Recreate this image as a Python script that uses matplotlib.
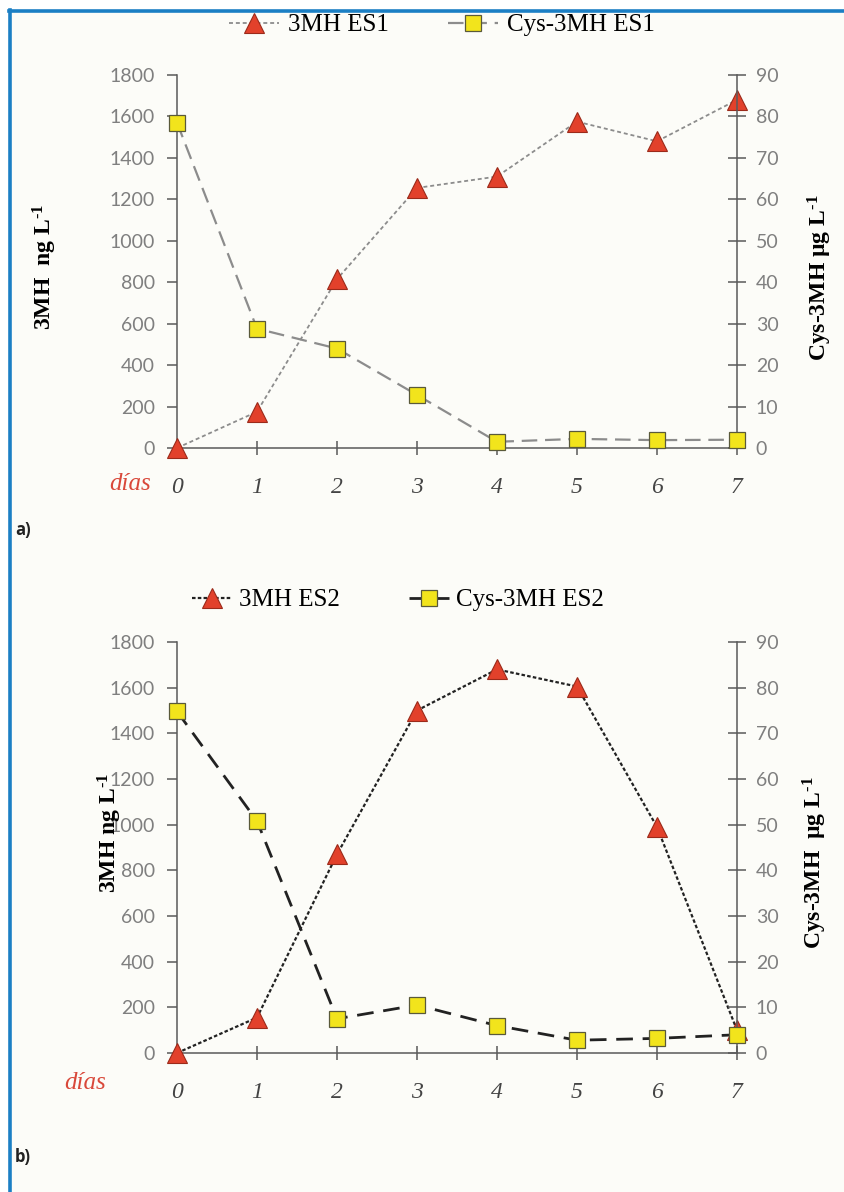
import matplotlib
matplotlib.use("Agg")
import matplotlib.pyplot as plt
from matplotlib.lines import Line2D
from matplotlib.patches import Rectangle

# ---------------- data ----------------
days = [0, 1, 2, 3, 4, 5, 6, 7]
day_labels = ["0", "1", "2", "3", "4", "5", "6", "7"]

mh_es1 = [0, 175, 815, 1255, 1310, 1575, 1480, 1680]          # ng/L (left)
cys_es1 = [78.5, 28.8, 24.0, 12.8, 1.5, 2.2, 1.9, 2.0]        # ug/L (right)

mh_es2 = [0, 155, 870, 1500, 1680, 1605, 990, 100]            # ng/L (left)
cys_es2 = [74.8, 50.8, 7.5, 10.5, 6.0, 2.8, 3.2, 4.0]         # ug/L (right)

left_ticks = [0, 200, 400, 600, 800, 1000, 1200, 1400, 1600, 1800]
right_ticks = [0, 10, 20, 30, 40, 50, 60, 70, 80, 90]

labels_a = ["3MH ES1", "Cys-3MH ES1"]
labels_b = ["3MH ES2", "Cys-3MH ES2"]

# ---------------- style ----------------
W, H = 845, 1192
DPI = 100
plt.rcParams["mathtext.fontset"] = "custom"
plt.rcParams["mathtext.rm"] = "Liberation Serif:bold"
plt.rcParams["mathtext.bf"] = "Liberation Serif:bold"
plt.rcParams["mathtext.it"] = "Liberation Serif:italic:bold"

TRI_FACE = "#e2412b"
TRI_EDGE = "#9b2a1a"
SQ_FACE = "#f2e41c"
SQ_EDGE = "#5a5a3a"
TICK_COL = "#7f7f7f"
SPINE_COL = "#5a5a5a"
BLUE = "#1b7fc4"

fig = plt.figure(figsize=(W / DPI, H / DPI), dpi=DPI, facecolor="white")

# background panel & blue frame
fig.add_artist(Rectangle((10 / W, 0), 1 - 10 / W, 1 - 12 / H, transform=fig.transFigure,
                         facecolor="#fcfcf8", edgecolor="none", zorder=-10))
fig.add_artist(Line2D([9 / W, 1], [1 - 11 / H, 1 - 11 / H], transform=fig.transFigure,
                      color=BLUE, lw=2.6))
fig.add_artist(Line2D([10.5 / W, 10.5 / W], [0, 1 - 10 / H], transform=fig.transFigure,
                      color=BLUE, lw=2.6))

SUP = r"$^{\text{-1}}$"


def px_axes(left, right, top, bottom):
    return fig.add_axes([left / W, 1 - bottom / H, (right - left) / W, (bottom - top) / H])


def make_panel(top, bottom, mh, cys, line_col, tri_ls, tri_lw, sq_ls, sq_lw):
    ax = px_axes(177, 737, top, bottom)
    ax.set_facecolor("none")
    ax2 = ax.twinx()
    ax2.set_facecolor("none")

    l1, = ax.plot(days, mh, color=line_col, ls=tri_ls, lw=tri_lw, marker="^", ms=15,
                  mfc=TRI_FACE, mec=TRI_EDGE, mew=0.8, clip_on=False, zorder=5)
    l2, = ax2.plot(days, cys, color=line_col, ls=sq_ls, lw=sq_lw, marker="s", ms=12,
                   mfc=SQ_FACE, mec=SQ_EDGE, mew=0.9, clip_on=False, zorder=6)

    ax.set_xlim(0, 7)
    ax.set_ylim(0, 1800)
    ax2.set_ylim(0, 90)
    ax.set_xticks(days)
    ax.set_xticklabels(day_labels, family="Liberation Serif", style="italic",
                       fontsize=17, color="#444444")
    ax.set_yticks(left_ticks)
    ax.set_yticklabels([str(v) for v in left_ticks], family="Lato", fontsize=14, color=TICK_COL)
    ax2.set_yticks(right_ticks)
    ax2.set_yticklabels([str(v) for v in right_ticks], family="Lato", fontsize=14, color=TICK_COL)

    for a in (ax, ax2):
        a.spines["top"].set_visible(False)
        for s in ("left", "right", "bottom"):
            a.spines[s].set_color(SPINE_COL)
            a.spines[s].set_linewidth(1.1)
    ax.spines["right"].set_visible(False)
    ax2.spines["left"].set_visible(False)
    ax2.spines["bottom"].set_visible(False)

    ax.tick_params(axis="x", direction="inout", length=10, width=1.1, color=SPINE_COL, pad=16)
    ax.tick_params(axis="y", direction="out", length=7, width=1.1, color=SPINE_COL, pad=9)
    ax2.tick_params(axis="y", direction="inout", length=13, width=1.1, color=SPINE_COL, pad=7)
    return ax, ax2, l1, l2


# ---------------- panel a ----------------
ax_a, ax_a2, a1, a2 = make_panel(75, 448, mh_es1, cys_es1, "#8c8c8c",
                                 (0, (2.2, 1.6)), 1.3, (0, (7, 3.5)), 1.6)
fig.legend([a1, a2], labels_a, loc="center", bbox_to_anchor=(442 / W, 1 - 25 / H),
           ncol=2, frameon=False, handlelength=2.0, columnspacing=2.4, handletextpad=0.35,
           prop={"family": "Liberation Serif", "size": 18})

fig.text(45 / W, 1 - 267 / H, "3MH  ng L" + SUP, rotation=90, ha="center", va="center",
         family="Liberation Serif", weight="bold", fontsize=17)
fig.text(820 / W, 1 - 278 / H, "Cys-3MH µg L" + SUP, rotation=90,
         ha="center", va="center", family="Liberation Serif", weight="bold", fontsize=17)
fig.text(130 / W, 1 - 484 / H, "días", ha="center", va="center", family="Liberation Serif",
         style="italic", fontsize=18, color="#d9483a")
fig.text(15 / W, 1 - 530 / H, "a)", ha="left", va="center", family="Open Sans",
         weight="bold", fontsize=12, color="#222222")

# ---------------- panel b ----------------
ax_b, ax_b2, b1, b2 = make_panel(642, 1053, mh_es2, cys_es2, "#222222",
                                 (0, (1.6, 1.0)), 1.6, (0, (6, 3.5)), 2.0)
fig.legend([b1, b2], labels_b, loc="center", bbox_to_anchor=(398 / W, 1 - 600 / H),
           ncol=2, frameon=False, handlelength=1.6, columnspacing=2.8, handletextpad=0.25,
           prop={"family": "Liberation Serif", "size": 18})

fig.text(110 / W, 1 - 833 / H, "3MH ng L" + SUP, rotation=90, ha="center", va="center",
         family="Liberation Serif", weight="bold", fontsize=17)
fig.text(815 / W, 1 - 863 / H, "Cys-3MH  µg L" + SUP, rotation=90,
         ha="center", va="center", family="Liberation Serif", weight="bold", fontsize=17)
fig.text(85 / W, 1 - 1083 / H, "días", ha="center", va="center", family="Liberation Serif",
         style="italic", fontsize=18, color="#d9483a")
fig.text(15 / W, 1 - 1157 / H, "b)", ha="left", va="center", family="Open Sans",
         weight="bold", fontsize=12, color="#222222")

fig.savefig("out.png", dpi=DPI)
